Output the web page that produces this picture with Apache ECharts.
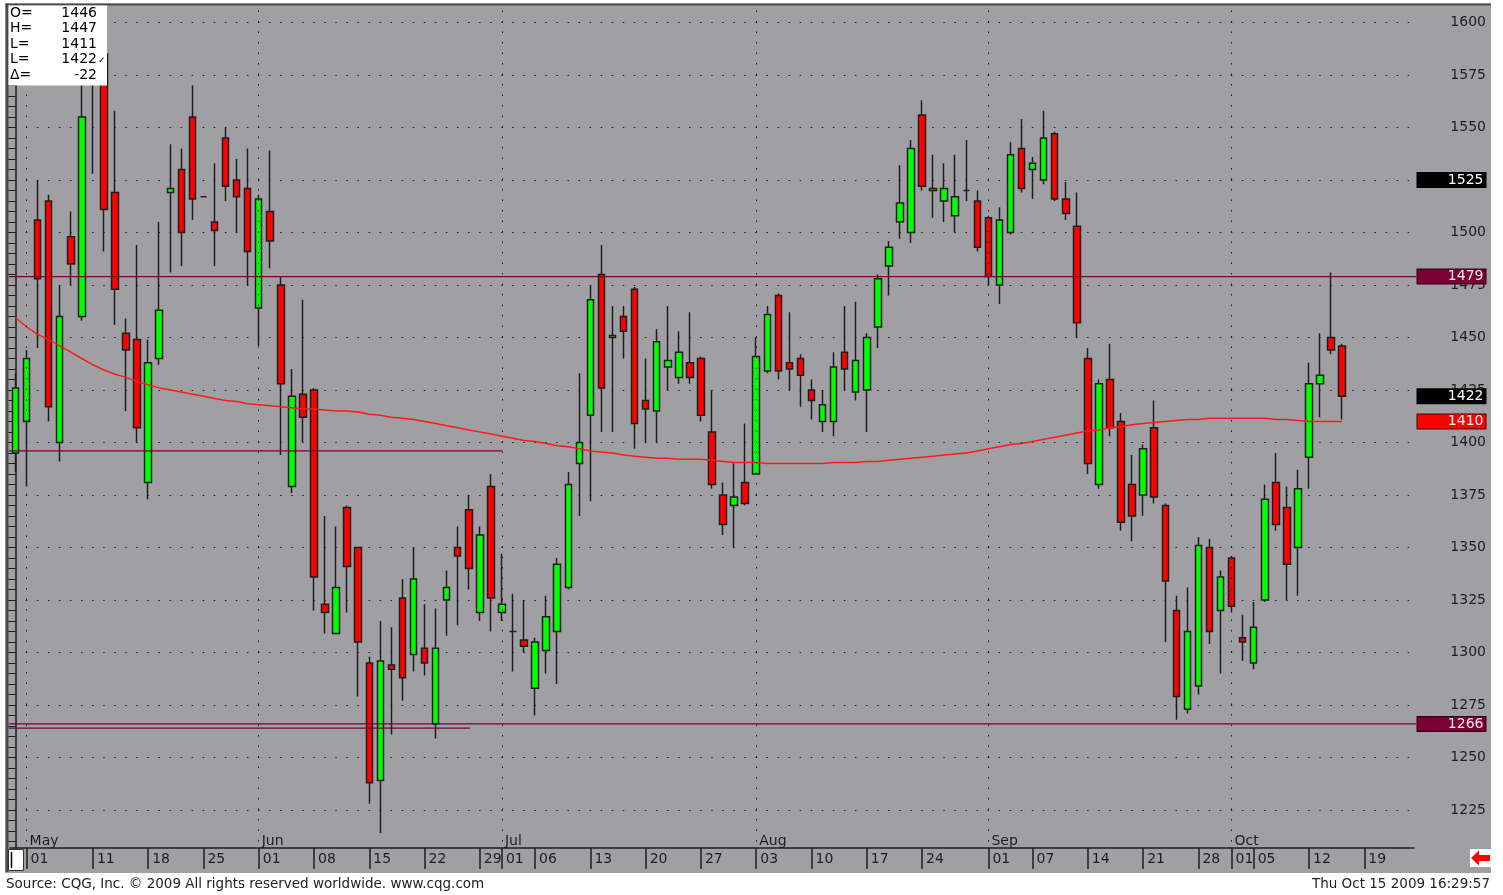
<!DOCTYPE html>
<html>
<head>
<meta charset="utf-8">
<title>Daily candles May - Oct 2009</title>
<script src="https://cdn.jsdelivr.net/npm/echarts@6/dist/echarts.min.js"></script>
<style>
  html, body { margin: 0; padding: 0; background: #fff; }
  #main { width: 1503px; height: 895px; }
</style>
</head>
<body>
<div id="main"></div>
<script>
// trading days (all weekdays), 30 Apr 2009 -> 23 Oct 2009
var categories = [];
var d = new Date(Date.UTC(2009, 3, 30));
while (categories.length < 127) {
  var wd = d.getUTCDay();
  if (wd > 0 && wd < 6) categories.push(d.toISOString().slice(0, 10));
  d.setUTCDate(d.getUTCDate() + 1);
}

var opens = [1395,1410,1506,1515,1400,1498,1460,1578,1585,1519,
  1452,1449,1381,1440,1519,1530,1555,1517,1505,1545,
  1525,1521,1464,1510,1475,1379,1423,1425,1323,1309,
  1369,1350,1295,1239,1294,1326,1299,1302,1266,1325,
  1350,1368,1319,1379,1319,1310,1306,1283,1301,1310,
  1331,1390,1413,1480,1450,1460,1473,1420,1415,1436,
  1431,1438,1440,1405,1375,1370,1381,1385,1434,1470,
  1438,1440,1425,1410,1410,1443,1424,1425,1455,1484,
  1505,1500,1556,1520,1515,1508,1520,1515,1507,1475,
  1500,1540,1530,1525,1547,1516,1503,1440,1380,1430,
  1410,1380,1375,1407,1370,1320,1273,1284,1350,1320,
  1345,1307,1295,1325,1381,1369,1350,1393,1428,1450,
  1446];
var closes = [1426,1440,1478,1417,1460,1485,1555,1590,1511,1473,
  1444,1407,1438,1463,1521,1500,1516,1517,1501,1522,
  1517,1491,1516,1496,1428,1422,1412,1336,1319,1331,
  1341,1305,1238,1296,1292,1288,1335,1295,1302,1331,
  1346,1340,1356,1326,1323,1310,1303,1305,1317,1342,
  1380,1400,1468,1426,1451,1453,1409,1416,1448,1439,
  1443,1431,1413,1380,1361,1374,1371,1441,1461,1434,
  1435,1432,1420,1418,1436,1435,1439,1450,1478,1493,
  1514,1540,1522,1521,1521,1517,1520,1493,1479,1506,
  1537,1521,1533,1545,1516,1509,1457,1390,1428,1407,
  1362,1365,1397,1374,1334,1279,1310,1351,1310,1336,
  1322,1305,1312,1373,1361,1342,1378,1428,1432,1444,
  1422];
var lows = [1386,1379,1445,1410,1391,1475,1458,1528,1491,1456,
  1415,1400,1373,1437,1481,1484,1506,1517,1484,1515,
  1500,1475,1446,1483,1394,1376,1400,1320,1309,1309,
  1319,1279,1228,1214,1261,1277,1291,1289,1259,1308,
  1313,1330,1315,1310,1315,1291,1300,1270,1290,1285,
  1330,1365,1372,1405,1405,1440,1397,1400,1400,1425,
  1428,1428,1410,1378,1356,1350,1370,1385,1433,1430,
  1425,1417,1411,1405,1403,1425,1420,1405,1445,1470,
  1497,1495,1520,1507,1505,1500,1515,1491,1475,1466,
  1499,1519,1516,1523,1515,1506,1450,1385,1378,1403,
  1358,1353,1365,1371,1305,1268,1271,1280,1304,1290,
  1319,1296,1292,1324,1358,1325,1327,1378,1412,1442,
  1411];
var highs = [1433,1444,1525,1518,1475,1510,1572,1598,1592,1558,
  1459,1494,1449,1505,1542,1540,1570,1517,1533,1550,
  1535,1540,1518,1539,1479,1435,1468,1426,1365,1360,
  1370,1350,1298,1315,1312,1335,1350,1323,1321,1339,
  1360,1375,1360,1385,1347,1328,1325,1307,1327,1345,
  1386,1433,1475,1494,1465,1465,1474,1440,1454,1465,
  1453,1462,1441,1425,1381,1390,1409,1450,1465,1471,
  1462,1442,1430,1425,1443,1465,1467,1452,1480,1496,
  1532,1544,1563,1537,1533,1537,1544,1520,1508,1512,
  1543,1554,1536,1558,1548,1524,1519,1445,1430,1447,
  1414,1394,1399,1420,1371,1327,1331,1355,1354,1339,
  1346,1318,1324,1380,1395,1379,1387,1438,1452,1481,
  1447];

// moving average
var ma = [1459.5,1455,1451.5,1449,1446,1443,1440,1437,1434.5,1432.5,
  1431,1429,1427.5,1426,1425,1424,1423,1422,1421,1420,
  1419.5,1418.5,1418,1417.5,1417,1416.5,1416,1416,1415.5,1415,
  1415,1414.5,1413.5,1413,1412,1411.5,1411,1410,1409,1408,
  1407,1406,1405,1404,1403,1402,1401,1400.5,1399.5,1398.5,
  1398,1397,1396,1395.5,1395,1394,1393.5,1393,1392.5,1392.5,
  1392,1392,1392,1391.5,1391,1390.5,1390.5,1390.5,1390,1390,
  1390,1390,1390,1390,1390.5,1390.5,1390.5,1391,1391,1391.5,
  1392,1392.5,1393,1393.5,1394,1394.5,1395,1396,1397,1398,
  1399,1399.5,1400.5,1401.5,1402.5,1403.5,1404.5,1405.5,1406,1407,
  1407.5,1408.5,1409,1409.5,1410,1410.5,1411,1411,1411.5,1411.5,
  1411.5,1411.5,1411.5,1411.5,1411,1411,1410.5,1410,1410,1410,1410];

// date row ticks and month names
var dateTicks = ['2009-05-01','2009-05-11','2009-05-18','2009-05-25','2009-06-01','2009-06-08',
  '2009-06-15','2009-06-22','2009-06-29','2009-07-01','2009-07-06','2009-07-13','2009-07-20',
  '2009-07-27','2009-08-03','2009-08-10','2009-08-17','2009-08-24','2009-09-01','2009-09-07',
  '2009-09-14','2009-09-21','2009-09-28','2009-10-01','2009-10-05','2009-10-12','2009-10-19'];
var monthStarts = ['2009-05-01','2009-06-01','2009-07-01','2009-08-03','2009-09-01','2009-10-01'];
var monthNames = ['May','Jun','Jul','Aug','Sep','Oct'];

// horizontal level lines (x in day index units)
var levelValues = [1479, 1266, 1396, 1264];
var levelStarts = [-0.7, -0.7, -0.7, -0.7];
var levelEnds = [126.7, 126.7, 44, 41.1];

// price tags on the right scale
var tagValues = [1525, 1479, 1422, 1410, 1266];
var tagKinds = ['cursor', 'level', 'cursor', 'avg', 'level'];

var FONT = 'DejaVu Sans';
var INK = '#1e1e1e';
var MAROON = '#7a0034';

var candles = opens.map(function (o, i) { return [o, closes[i], lows[i], highs[i]]; });
var tickSet = {};
dateTicks.forEach(function (t) { tickSet[t] = true; });
var monthSet = {};
monthStarts.forEach(function (t, i) { monthSet[t] = monthNames[i]; });

var tagStyle = {
  cursor: { bg: '#000000', border: '#000000', text: '#ffffff' },
  level: { bg: MAROON, border: '#2a0010', text: '#ffe8f0' },
  avg: { bg: '#ff0000', border: '#500000', text: '#ffffff' }
};

var markItems = monthStarts.map(function (m) {
  return { xAxis: m, lineStyle: { color: INK, width: 1, type: [1.5, 9] }, label: { show: false } };
});
tagValues.forEach(function (v, i) {
  var s = tagStyle[tagKinds[i]];
  markItems.push({
    yAxis: v,
    lineStyle: { color: 'rgba(0,0,0,0)', width: 0, opacity: 1 },
    label: {
      show: true, position: 'end', distance: 3.5, opacity: 1,
      formatter: '{t|' + v + '}',
      backgroundColor: s.bg, borderColor: s.border, borderWidth: 1,
      padding: [0, 2, 0, 0],
      rich: { t: { width: 66, align: 'right', color: s.text, fontSize: 14, fontFamily: FONT, lineHeight: 14 } }
    }
  });
});

var levelSeries = levelValues.map(function (v, i) {
  return {
    type: 'line', xAxisIndex: 2, yAxisIndex: 0, z: 3, silent: true,
    symbol: 'none', animation: false,
    lineStyle: { color: MAROON, width: 1.2 },
    data: [[levelStarts[i], v], [levelEnds[i], v]]
  };
});

var last = candles.length - 1;
var ohlc = [
  ['O=', String(opens[last])],
  ['H=', String(highs[last])],
  ['L=', String(lows[last])],
  ['L=', String(closes[last])],
  ['\u0394=', String(closes[last] - closes[last - 1])]
];
var boxText = [];
ohlc.forEach(function (row, i) {
  var y = 13 + i * 15.6;
  boxText.push({ type: 'text', z: 21, style: { x: 10, y: y, text: row[0], fill: '#000', font: '14px "' + FONT + '"', textVerticalAlign: 'middle' } });
  boxText.push({ type: 'text', z: 21, style: { x: 97, y: y, text: row[1], fill: '#000', font: '14px "' + FONT + '"', textAlign: 'right', textVerticalAlign: 'middle' } });
});
boxText.push({ type: 'text', z: 21, style: { x: 98, y: 13 + 3 * 15.6 + 1, text: '\u2713', fill: '#000', font: '9px "' + FONT + '"', textVerticalAlign: 'middle' } });

var chart = echarts.init(document.getElementById('main'), null, { renderer: 'canvas' });

var option = {
  animation: false,
  backgroundColor: '#a0a0a4',
  grid: { left: 10, top: -30, width: 1404, height: 892.5, containLabel: false, outerBoundsMode: 'none' },
  xAxis: [
    {
      type: 'category', data: categories, position: 'bottom', offset: -14.5, boundaryGap: true, z: 12,
      axisLine: { show: true, lineStyle: { color: INK, width: 1.5 } },
      axisTick: {
        show: true, alignWithLabel: true, length: 21,
        interval: function (i, v) { return !!tickSet[v]; },
        lineStyle: { color: INK, width: 1.5 }
      },
      axisLabel: {
        show: true, interval: function (i, v) { return !!tickSet[v]; },
        formatter: function (v) { return v.slice(8); },
        align: 'left', padding: [0, 0, 0, 4], margin: 4,
        color: INK, fontSize: 14, fontFamily: FONT
      },
      splitLine: { show: false }
    },
    {
      type: 'category', data: categories, position: 'bottom', offset: -14.5, boundaryGap: true, z: 12,
      axisLine: { show: false }, axisTick: { show: false }, splitLine: { show: false },
      axisLabel: {
        show: true, inside: true, interval: function (i, v) { return !!monthSet[v]; },
        formatter: function (v) { return monthSet[v] || ''; },
        align: 'left', padding: [0, 0, 0, 3], margin: 0,
        color: INK, fontSize: 14, fontFamily: FONT
      }
    },
    { type: 'value', min: -0.5, max: 126.5, show: false, position: 'top' }
  ],
  yAxis: [
    {
      type: 'value', position: 'right', offset: 2, min: 1200, max: 1625, interval: 25, scale: true,
      axisLine: { show: true, lineStyle: { color: INK, width: 1.5 } },
      axisTick: { show: true, inside: true, length: 7, lineStyle: { color: INK } },
      minorTick: { show: true, splitNumber: 5, length: 4, lineStyle: { color: INK } },
      axisLabel: {
        margin: 70, align: 'right', color: INK, fontSize: 14, fontFamily: FONT,
        padding: [0, 0, 4, 0], showMinLabel: false, showMaxLabel: false,
        formatter: function (v) { return String(v); }
      },
      splitLine: { show: true, lineStyle: { color: INK, width: 1, type: [1.5, 9.555], dashOffset: 6.3 } }
    },
    {
      type: 'value', position: 'left', offset: 2, min: 1200, max: 1625, interval: 25, scale: true,
      axisLine: { show: false },
      axisTick: { show: true, inside: true, length: 6, lineStyle: { color: INK } },
      minorTick: { show: true, splitNumber: 5, length: 4, lineStyle: { color: INK } },
      axisLabel: { show: false },
      splitLine: { show: false }
    }
  ],
  series: [
    {
      type: 'candlestick', xAxisIndex: 0, yAxisIndex: 0, z: 2, silent: true,
      barWidth: 7,
      itemStyle: {
        color: '#00ff00', color0: '#ff0000',
        borderColor: INK, borderColor0: INK, borderColorDoji: INK, borderWidth: 1.5
      },
      data: candles
    },
    {
      type: 'line', xAxisIndex: 0, yAxisIndex: 0, z: 4, silent: true,
      symbol: 'none', data: ma,
      lineStyle: { color: '#ff1a1a', width: 1.5 },
      markLine: { silent: true, symbol: ['none', 'none'], animation: false, data: markItems }
    }
  ].concat(levelSeries),
  graphic: [
    // page border and date row
    { type: 'rect', z: 10, silent: true, shape: { x: 0, y: 0, width: 1503, height: 3.5 }, style: { fill: '#ffffff' } },
    { type: 'rect', z: 10, silent: true, shape: { x: 0, y: 0, width: 5.5, height: 895 }, style: { fill: '#ffffff' } },
    { type: 'rect', z: 10, silent: true, shape: { x: 1491, y: 0, width: 12, height: 895 }, style: { fill: '#ffffff' } },
    { type: 'rect', z: 10, silent: true, shape: { x: 0, y: 873, width: 1503, height: 22 }, style: { fill: '#ffffff' } },
    { type: 'rect', z: 10, silent: true, shape: { x: 5.5, y: 848.8, width: 1485.5, height: 24.2 }, style: { fill: '#a0a0a4' } },
    { type: 'line', z: 11, silent: true, shape: { x1: 7, y1: 3.5, x2: 7, y2: 872 }, style: { stroke: '#4a4a4a', lineWidth: 3 } },
    { type: 'line', z: 11, silent: true, shape: { x1: 5.5, y1: 4.5, x2: 1491, y2: 4.5 }, style: { stroke: '#4a4a4a', lineWidth: 2 } },
    // bottom-left widget and scroll arrow
    { type: 'rect', z: 13, silent: true, shape: { x: 8.5, y: 849.5, width: 15, height: 21 }, style: { fill: '#ffffff', stroke: '#333', lineWidth: 1 } },
    { type: 'line', z: 14, silent: true, shape: { x1: 11.5, y1: 852, x2: 11.5, y2: 868 }, style: { stroke: '#000', lineWidth: 1.5 } },
    { type: 'rect', z: 13, silent: true, shape: { x: 1470, y: 849, width: 21, height: 18 }, style: { fill: '#ffffff' } },
    { type: 'polygon', z: 14, silent: true, shape: { points: [[1471, 858], [1479, 850.5], [1479, 855], [1490, 855], [1490, 861], [1479, 861], [1479, 865.5]] }, style: { fill: '#ff0000' } },
    // OHLC readout
    { type: 'rect', z: 20, silent: true, shape: { x: 8.5, y: 5.5, width: 98.5, height: 80 }, style: { fill: '#ffffff' } },
    // footer
    { type: 'text', z: 20, silent: true, style: { x: 6, y: 884.5, text: 'Source: CQG, Inc. \u00a9 2009 All rights reserved worldwide. www.cqg.com', fill: '#222', font: '13.5px "' + FONT + '"', textVerticalAlign: 'middle' } },
    { type: 'text', z: 20, silent: true, style: { x: 1490, y: 884.5, text: 'Thu Oct 15 2009 16:29:57', fill: '#222', font: '13.5px "' + FONT + '"', textAlign: 'right', textVerticalAlign: 'middle' } }
  ].concat(boxText)
};

chart.setOption(option);
</script>
</body>
</html>
